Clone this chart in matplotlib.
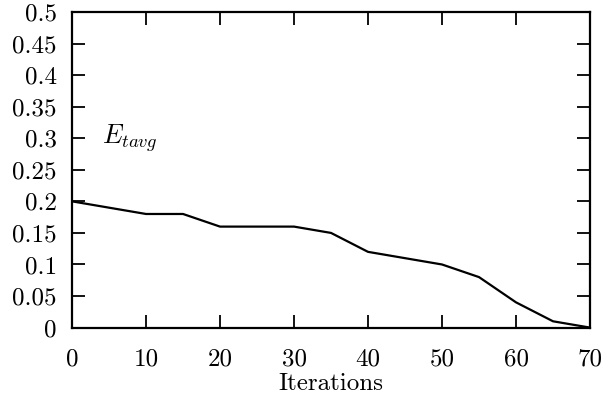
import matplotlib
matplotlib.use("Agg")
import matplotlib.pyplot as plt
import numpy as np

# values
iterations = [0, 5, 10, 15, 20, 25, 30, 35, 40, 45, 50, 55, 60, 65, 70]
e_tavg = [0.20, 0.19, 0.18, 0.18, 0.16, 0.16, 0.16, 0.15, 0.12, 0.11, 0.10, 0.08, 0.04, 0.01, 0.0]

x_ticks = np.arange(0, 71, 10)
y_ticks = [0, 0.05, 0.1, 0.15, 0.2, 0.25, 0.3, 0.35, 0.4, 0.45, 0.5]
y_labels = ['0', '0.05', '0.1', '0.15', '0.2', '0.25', '0.3', '0.35', '0.4', '0.45', '0.5']

plt.rcParams['font.family'] = 'serif'
plt.rcParams['font.serif'] = ['cmr10']
plt.rcParams['mathtext.fontset'] = 'cm'

fig = plt.figure(figsize=(6.13, 4.0), dpi=100)
ax = fig.add_axes([0.1175, 0.181, 0.845, 0.789])

ax.plot(iterations, e_tavg, color='black', linewidth=1.6)

ax.set_xlim(0, 70)
ax.set_ylim(0, 0.5)
ax.set_xticks(x_ticks)
ax.set_xticklabels([str(t) for t in x_ticks])
ax.set_yticks(y_ticks)
ax.set_yticklabels(y_labels)
ax.tick_params(direction='in', length=9.5, width=1.3, top=True, right=True,
               labelsize=18, color='black')
ax.tick_params(axis='x', pad=15)
ax.tick_params(axis='y', pad=11)
for s in ax.spines.values():
    s.set_linewidth(1.6)

ax.text(4.0, 0.30, r'$E_{tavg}$', fontsize=19, va='center', ha='left')
ax.set_xlabel('Iterations', fontsize=18, labelpad=2)

plt.savefig('out.png', dpi=100)
